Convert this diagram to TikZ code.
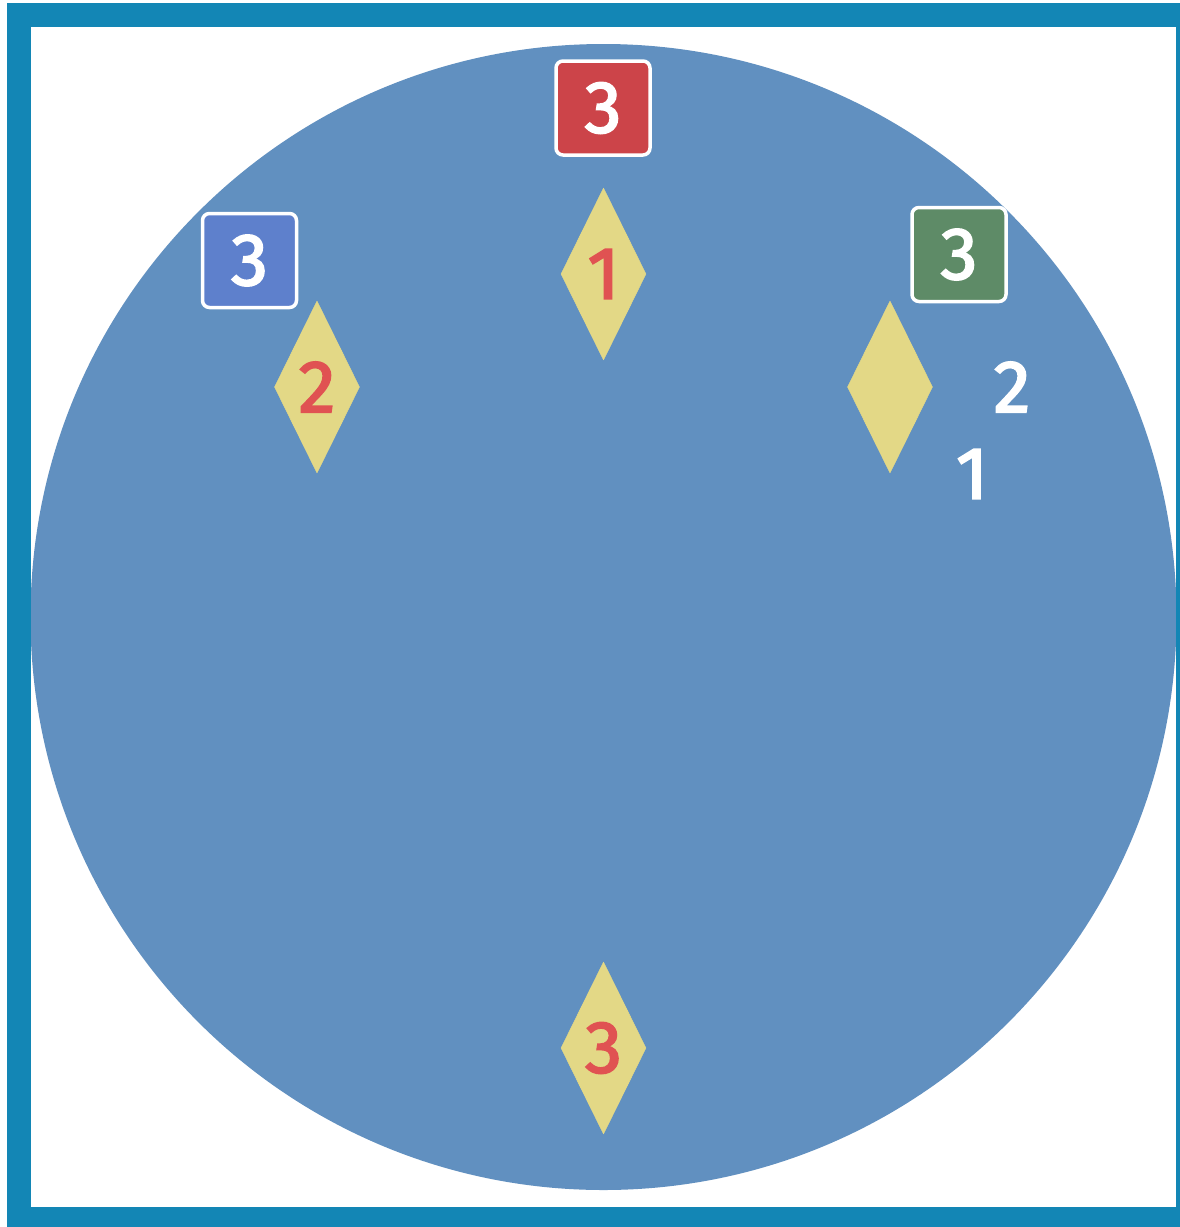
\documentclass[tikz,border=0pt]{standalone}
\usepackage{fontspec}
\setmainfont{Fira Sans}
\newfontfamily\numfont[FakeBold=2.5]{Fira Sans}
\usetikzlibrary{shapes.geometric}
\definecolor{framecol}{HTML}{1386B5}
\definecolor{discol}{HTML}{6190C0}
\definecolor{redbox}{HTML}{CC4449}
\definecolor{bluebox}{HTML}{5E80CC}
\definecolor{greenbox}{HTML}{5E8B67}
\definecolor{diacol}{HTML}{E3D886}
\definecolor{redtxt}{HTML}{E05252}
\tikzset{
  numbox/.style={rectangle, rounded corners=7pt, draw=white, line width=3.5pt,
    minimum width=94pt, minimum height=94pt, inner sep=0pt, text=white,
    font=\numfont\fontsize{74}{74}\selectfont},
  gem/.style={diamond, fill=diacol, draw=diacol, line width=0.5pt, line join=round,
    minimum width=85pt, minimum height=172pt, inner sep=0pt},
  gemtext/.style={text=redtxt, font=\numfont\fontsize{74}{74}\selectfont, inner sep=0pt},
  freetext/.style={text=white, font=\numfont\fontsize{74}{74}\selectfont, inner sep=0pt}
}
\begin{document}
\begin{tikzpicture}[x=1pt,y=-1pt]
\useasboundingbox (0,0) rectangle (1180,1227);
\fill[white] (0,0) rectangle (1180,1227);
\node[circle, fill=discol, minimum size=1146pt, inner sep=0pt] (disc) at (603.5,617) {};
\draw[framecol, line width=24pt] (19,15) rectangle (1188,1219);
\node[numbox, fill=redbox] (rbox) at (603,108) {3};
\node[numbox, fill=bluebox] (bbox) at (249.5,260.5) {3};
\node[numbox, fill=greenbox] (gbox) at (959,254.5) {3};
\node[gem, label={[gemtext]center:1}] (g1) at (603.5,274) {};
\node[gem, label={[gemtext]center:2}] (g2) at (317,387) {};
\node[gem] (g3) at (890,387) {};
\node[gem, label={[gemtext]center:3}] (g4) at (603.5,1048) {};
\node[freetext] (t2) at (1012,387) {2};
\node[freetext] (t1) at (972,474) {1};
\end{tikzpicture}
\end{document}
